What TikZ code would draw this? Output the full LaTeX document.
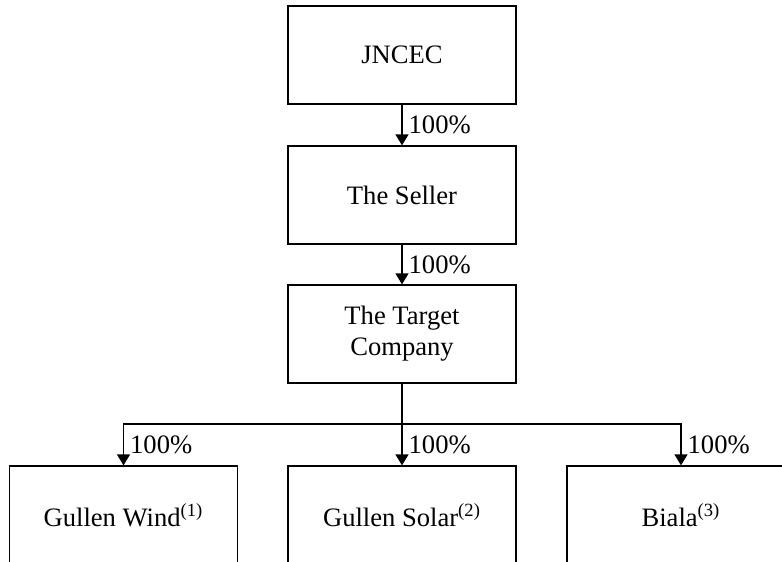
\documentclass[tikz,border=0pt]{standalone}
\usepackage{fontspec}
\setmainfont{Liberation Serif}
\usetikzlibrary{arrows.meta}

\begin{document}
\begin{tikzpicture}[x=0.5pt,y=-0.5pt,line width=0.65pt,
  font=\fontsize{13.3pt}{15.5pt}\selectfont,
  >={Triangle[width=6.5pt,length=5.5pt]},
  box/.style={draw,rectangle,minimum width=114pt,minimum height=49pt,align=center},
  pct/.style={anchor=west,inner sep=0pt,xshift=3pt}]
\clip (0,0) rectangle (782,562);
\node[box] (jncec) at (402,55) {JNCEC};
\node[box] (seller) at (402,195) {The Seller};
\node[box] (target) at (402,334) {The Target\\Company};
\node[box] (wind) at (123.5,515) {Gullen Wind\textsuperscript{(1)}};
\node[box] (solar) at (402,515) {Gullen Solar\textsuperscript{(2)}};
\node[box] (biala) at (681,515) {Biala\textsuperscript{(3)}};
\coordinate (split) at (402,424);
\draw[->] (jncec) -- node[pct] {100\%} (seller);
\draw[->] (seller) -- node[pct] {100\%} (target);
\draw (target) -- (split);
\draw[->] (split) -| node[pct,pos=0.75] {100\%} (wind.north);
\draw[->] (split) -- node[pct] {100\%} (solar);
\draw[->] (split) -| node[pct,pos=0.75] {100\%} (biala.north);
\end{tikzpicture}
\end{document}
